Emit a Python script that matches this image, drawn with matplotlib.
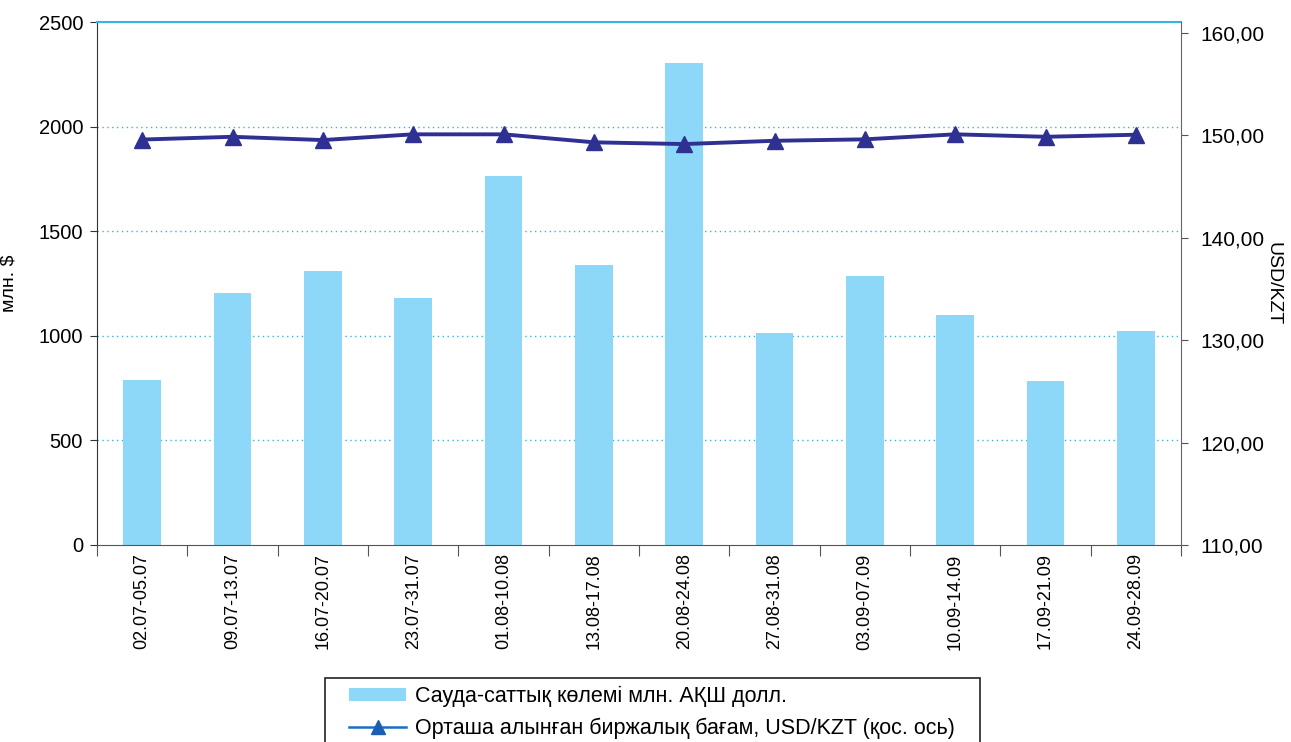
import matplotlib
matplotlib.use("Agg")
from matplotlib import pyplot as plt
from matplotlib.lines import Line2D
from matplotlib.patches import Patch, Rectangle
import numpy as np

plt.rcParams['font.family'] = ['Liberation Sans', 'DejaVu Sans']

# Weekly periods
periods = ['02.07-05.07', '09.07-13.07', '16.07-20.07', '23.07-31.07', '01.08-10.08', '13.08-17.08',
           '20.08-24.08', '27.08-31.08', '03.09-07.09', '10.09-14.09', '17.09-21.09', '24.09-28.09']
# Trading volume, mln USD
volume = [789, 1205, 1310, 1181, 1764, 1338, 2304, 1013, 1286, 1099, 784, 1023]
# Average weighted exchange rate USD/KZT
rate = [149.56, 149.83, 149.51, 150.07, 150.07, 149.29, 149.12, 149.44, 149.58, 150.07, 149.83, 150.03]

bar_color = '#8dd8f8'
line_color = '#2e3192'
grid_color = '#33b5e5'

fig = plt.figure(figsize=(12.91, 7.42), dpi=100)
ax = fig.add_axes([97 / 1291, 1 - 545 / 742, (1181 - 97) / 1291, (545 - 22) / 742])
x = np.arange(len(periods))
ax.bar(x, volume, width=0.42, color=bar_color, zorder=2)
ax.set_xlim(-0.5, len(periods) - 0.5)
ax.set_ylim(0, 2500)
ax.set_yticks([0, 500, 1000, 1500, 2000, 2500])
for v in [500, 1000, 1500, 2000]:
    ax.axhline(v, color=grid_color, linestyle=(0, (1, 2.5)), linewidth=1.0, zorder=1)
ax.spines['top'].set_color(grid_color)
ax.spines['top'].set_linewidth(1.5)
ax.spines['left'].set_color('#333333')
ax.spines['bottom'].set_color('#555555')
ax.spines['right'].set_visible(False)

ax.set_xticks(np.arange(len(periods) + 1) - 0.5, minor=False)
ax.set_xticklabels([])
ax.set_xticks(x, minor=True)
ax.set_xticklabels(periods, minor=True, rotation=90, fontsize=13)
ax.tick_params(axis='x', which='major', length=8, direction='out', color='#555555')
ax.tick_params(axis='x', which='minor', length=0, pad=6)
ax.tick_params(axis='y', labelsize=14.5, length=5, color='#333333', pad=5)
ax.set_ylabel('млн. $', fontsize=14)
ax.yaxis.set_label_coords(-0.073, 0.5)

ax2 = ax.twinx()
ax2.plot(x, rate, color=line_color, linewidth=2.8, marker='^', markersize=11, zorder=3)
ax2.set_ylim(110, 161.03)
ax2.set_yticks([110, 120, 130, 140, 150, 160])
ax2.set_yticklabels(['110,00', '120,00', '130,00', '140,00', '150,00', '160,00'])
ax2.tick_params(axis='y', labelsize=15, length=5, color='#555555', pad=9)
for s in ['top', 'left', 'bottom']:
    ax2.spines[s].set_visible(False)
ax2.spines['right'].set_color('#666666')
ax2.set_ylabel('USD/KZT', fontsize=14, rotation=-90)
ax2.yaxis.set_label_coords(1.093, 0.5)

# legend frame, cut off by the bottom edge like in the source
fig.patches.append(Rectangle((325 / 1291, -0.01), (980 - 325) / 1291, 0.01 + (742 - 678) / 742,
                             transform=fig.transFigure, facecolor='white', edgecolor='#222222',
                             linewidth=1.2, zorder=1))
handles = [Patch(facecolor=bar_color, edgecolor='none'),
           Line2D([], [], color='#1a6fc4', linewidth=1.8, marker='^', markersize=10,
                  markerfacecolor='#1a5fb0', markeredgecolor='#1a5fb0')]
labels = ['Сауда-саттық көлемі млн. АҚШ долл.', 'Орташа алынған биржалық бағам, USD/KZT (қос. ось)']
leg = fig.legend(handles, labels, loc='upper left', bbox_to_anchor=(349 / 1291, 1 - 686 / 742),
                 fontsize=15.5, frameon=False, borderpad=0, handlelength=2.65, handleheight=0.6,
                 labelspacing=0.5, handletextpad=0.4, borderaxespad=0)
leg.set_zorder(2)

fig.savefig('out.png', dpi=100)
